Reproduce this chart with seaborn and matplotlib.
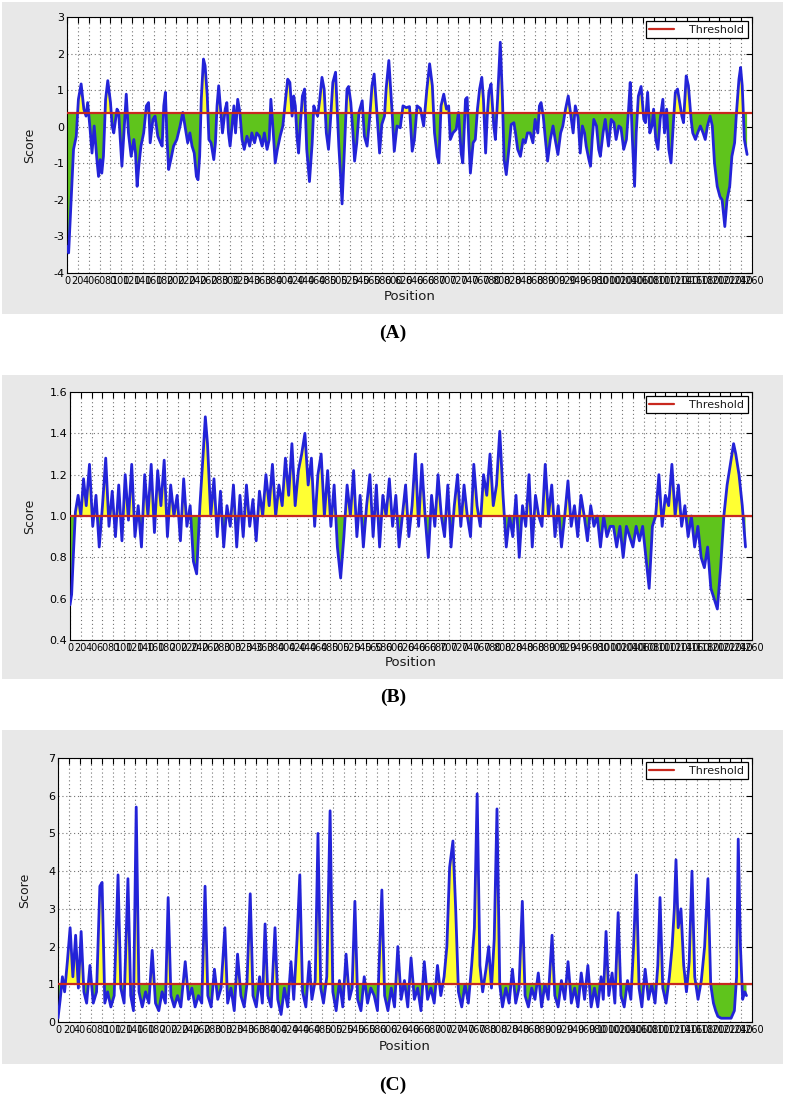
import numpy as np
import pandas as pd
import seaborn as sns
import matplotlib.pyplot as plt
from matplotlib.patches import Rectangle

# ---------------- data ----------------
# panel A
pos_a = [0, 3, 7, 12, 17, 21, 26, 31, 35, 38, 42, 46, 50, 55, 58, 61, 64, 67, 71, 75,
         80, 83, 86, 92, 95, 98, 101, 104, 109, 113, 118, 123, 126, 129, 132, 136, 141, 146, 150, 153,
         158, 162, 167, 172, 175, 178, 181, 184, 187, 191, 196, 202, 208, 213, 218, 222, 226, 230, 234, 238,
         241, 244, 247, 251, 254, 258, 261, 265, 270, 273, 276, 279, 283, 286, 291, 294, 297, 300, 307, 310,
         314, 318, 322, 326, 331, 336, 340, 345, 349, 354, 359, 363, 368, 372, 375, 379, 383, 387, 392, 397,
         402, 406, 410, 414, 417, 420, 423, 426, 429, 433, 437, 441, 446, 451, 454, 458, 461, 465, 469, 473,
         477, 481, 484, 489, 494, 497, 500, 503, 506, 509, 512, 515, 518, 522, 526, 529, 533, 537, 543, 547,
         552, 557, 561, 565, 570, 575, 579, 584, 587, 592, 598, 602, 607, 613, 618, 624, 630, 635, 639, 644,
         650, 656, 662, 667, 672, 676, 681, 684, 688, 693, 698, 702, 705, 710, 716, 720, 725, 728, 733, 736,
         739, 742, 747, 751, 755, 759, 763, 766, 770, 773, 776, 780, 785, 788, 792, 797, 801, 804, 808, 812,
         817, 822, 825, 829, 834, 839, 843, 847, 852, 857, 861, 866, 869, 872, 876, 880, 884, 889, 894, 898,
         903, 908, 912, 917, 922, 926, 931, 935, 940, 944, 948, 952, 955, 960, 963, 966, 969, 974, 978, 981,
         986, 990, 996, 1001, 1006, 1010, 1015, 1019, 1024, 1029, 1033, 1036, 1040, 1044, 1047, 1051, 1056, 1061, 1064, 1068,
         1072, 1076, 1079, 1083, 1087, 1091, 1096, 1099, 1103, 1107, 1111, 1115, 1119, 1123, 1127, 1131, 1134, 1139, 1143, 1148,
         1151, 1156, 1160, 1165, 1170, 1174, 1178, 1183, 1187, 1191, 1196, 1201, 1205, 1210, 1214, 1219, 1223, 1228, 1231, 1236,
         1239, 1242, 1246, 1251]
score_a = [-3.28, -3.45, -2.18, -0.62, -0.26, 0.75, 1.17, 0.48, 0.29, 0.66, 0.02, -0.72, 0.02, -0.90, -1.36, -0.90, -1.27, -0.81, 0.75, 1.26,
           0.66, 0.02, -0.17, 0.48, 0.39, -0.35, -1.08, -0.35, 0.89, -0.17, -0.81, -0.35, -0.72, -1.63, -1.08, -0.53, -0.17, 0.57, 0.66, -0.44,
           0.20, 0.29, -0.26, -0.44, -0.53, 0.57, 0.94, -0.35, -1.17, -0.90, -0.53, -0.35, 0.02, 0.39, -0.07, -0.44, -0.17, -0.53, -0.72, -1.36,
           -1.45, -0.81, 0.75, 1.85, 1.67, 0.84, -0.35, -0.44, -0.90, -0.44, 0.57, 1.12, 0.39, -0.17, 0.48, 0.66, -0.17, -0.53, 0.57, -0.17,
           0.75, 0.39, -0.35, -0.62, -0.26, -0.53, -0.17, -0.44, -0.17, -0.26, -0.53, -0.17, -0.62, -0.35, 0.75, -0.07, -0.99, -0.62, -0.26, 0.02,
           0.75, 1.30, 1.21, 0.29, 0.84, 0.57, -0.26, -0.72, 0.02, 0.84, 1.03, -0.62, -1.50, -0.44, 0.57, 0.39, 0.29, 0.75, 1.35, 1.03,
           -0.17, -0.62, 0.02, 1.21, 1.49, 0.48, -0.53, -1.27, -2.11, -1.08, 0.02, 1.03, 1.10, 0.66, -0.17, -0.94, -0.44, 0.39, 0.71, -0.26,
           -0.53, 0.29, 1.12, 1.44, 0.39, -0.72, 0.06, 0.29, 1.03, 1.81, 0.39, -0.67, 0.02, -0.03, 0.57, 0.52, 0.55, -0.67, -0.35, 0.57,
           0.50, 0.02, 1.03, 1.72, 1.12, -0.17, -0.81, -0.99, 0.57, 0.89, 0.48, 0.57, -0.35, -0.17, -0.07, 0.39, -0.72, -0.99, 0.75, 0.80,
           -0.35, -1.27, -0.44, -0.35, 0.48, 1.03, 1.35, 0.75, -0.72, 0.29, 0.94, 1.17, 0.02, -0.35, 0.75, 2.31, 0.75, -0.90, -1.31, -0.72,
           0.06, 0.11, -0.17, -0.62, -0.81, -0.35, -0.44, -0.17, -0.17, -0.44, 0.20, -0.17, 0.57, 0.66, 0.29, -0.35, -0.94, -0.35, 0.02, -0.35,
           -0.76, -0.17, 0.02, 0.48, 0.84, 0.39, -0.17, 0.57, 0.25, -0.72, 0.02, -0.17, -0.53, -0.90, -1.08, -0.35, 0.20, 0.02, -0.62, -0.81,
           -0.17, 0.20, -0.53, 0.20, 0.11, -0.35, 0.02, -0.03, -0.62, -0.35, 0.48, 1.21, -0.35, -1.63, -0.17, 0.84, 1.10, 0.20, 0.11, 0.94,
           -0.17, 0.02, 0.48, -0.35, -0.62, 0.20, 0.75, -0.17, 0.48, -0.62, -0.99, 0.02, 0.94, 1.03, 0.66, 0.29, 0.11, 1.39, 1.12, 0.20,
           -0.17, -0.35, -0.17, 0.02, -0.17, -0.35, 0.02, 0.29, 0.02, -0.99, -1.63, -1.91, -2.00, -2.73, -2.00, -1.63, -0.81, -0.44, 0.29, 1.30,
           1.62, 1.12, -0.35, -0.76]
thr_a = 0.37

# panel B
pos_b = [0, 3, 6, 10, 15, 20, 25, 30, 36, 42, 48, 54, 60, 66, 72, 78, 84, 90, 96, 102,
         108, 114, 120, 126, 132, 138, 144, 150, 156, 162, 168, 174, 180, 186, 192, 198, 204, 210, 216, 222,
         228, 234, 240, 246, 250, 254, 260, 266, 272, 278, 284, 290, 296, 302, 308, 314, 320, 326, 332, 338,
         344, 350, 356, 362, 368, 374, 380, 386, 392, 398, 404, 410, 416, 422, 428, 434, 440, 446, 452, 458,
         464, 470, 476, 482, 488, 494, 500, 506, 512, 518, 524, 530, 536, 542, 548, 554, 560, 566, 572, 578,
         584, 590, 596, 602, 608, 614, 620, 626, 632, 638, 644, 650, 656, 662, 668, 674, 680, 686, 692, 698,
         704, 710, 716, 722, 728, 734, 740, 746, 752, 758, 764, 770, 776, 782, 788, 794, 800, 806, 812, 818,
         824, 830, 836, 842, 848, 854, 860, 866, 872, 878, 884, 890, 896, 902, 908, 914, 920, 926, 932, 938,
         944, 950, 956, 962, 968, 974, 980, 986, 992, 998, 1004, 1010, 1016, 1022, 1028, 1034, 1040, 1046, 1052, 1058,
         1064, 1070, 1076, 1082, 1088, 1094, 1100, 1106, 1112, 1118, 1124, 1130, 1136, 1142, 1148, 1154, 1160, 1166, 1172, 1178,
         1184, 1190, 1196, 1202, 1208, 1214, 1220, 1226, 1230, 1236, 1242, 1248]
score_b = [0.57, 0.62, 0.80, 1.02, 1.10, 1.00, 1.18, 1.05, 1.25, 0.95, 1.10, 0.85, 1.05, 1.28, 0.95, 1.12, 0.90, 1.15, 0.88, 1.20,
           0.98, 1.25, 0.90, 1.05, 0.85, 1.20, 1.00, 1.25, 0.92, 1.22, 1.05, 1.27, 0.90, 1.15, 1.00, 1.10, 0.88, 1.18, 0.95, 1.05,
           0.78, 0.72, 1.05, 1.30, 1.48, 1.35, 1.00, 1.18, 0.90, 1.12, 0.85, 1.05, 0.95, 1.15, 0.85, 1.10, 0.90, 1.15, 0.95, 1.08,
           0.88, 1.12, 1.00, 1.20, 1.05, 1.25, 1.00, 1.15, 1.05, 1.28, 1.10, 1.35, 1.05, 1.22, 1.30, 1.40, 1.15, 1.28, 0.95, 1.20,
           1.30, 1.00, 1.22, 0.95, 1.15, 0.85, 0.70, 0.90, 1.15, 1.00, 1.22, 0.90, 1.10, 0.85, 1.05, 1.20, 0.90, 1.15, 0.85, 1.10,
           1.00, 1.18, 0.95, 1.10, 0.85, 1.00, 1.15, 0.90, 1.05, 1.30, 0.95, 1.25, 1.00, 0.80, 1.10, 0.95, 1.20, 1.00, 0.90, 1.15,
           0.85, 1.05, 1.20, 0.95, 1.15, 1.00, 0.90, 1.25, 1.05, 0.95, 1.20, 1.10, 1.30, 1.05, 1.15, 1.41, 1.10, 0.85, 1.00, 0.90,
           1.10, 0.80, 1.05, 0.95, 1.20, 0.85, 1.10, 1.00, 0.95, 1.25, 1.00, 1.15, 0.90, 1.05, 0.85, 1.00, 1.17, 0.95, 1.05, 0.90,
           1.10, 1.00, 0.88, 1.05, 0.95, 1.00, 0.85, 1.00, 0.90, 0.95, 0.95, 0.85, 0.95, 0.80, 0.95, 0.90, 0.85, 0.95, 0.88, 0.95,
           0.80, 0.65, 0.95, 1.00, 1.20, 0.95, 1.10, 1.05, 1.25, 1.00, 1.15, 0.95, 1.05, 0.90, 1.00, 0.85, 0.95, 0.80, 0.75, 0.85,
           0.65, 0.60, 0.55, 0.75, 1.00, 1.15, 1.25, 1.35, 1.30, 1.20, 1.05, 0.85]
thr_b = 1.0

# panel C
pos_c = [0, 4, 8, 12, 17, 22, 27, 32, 37, 42, 47, 52, 58, 64, 70, 76, 80, 85, 90, 96,
         102, 109, 114, 120, 127, 132, 137, 142, 147, 153, 159, 165, 171, 177, 183, 189, 195, 200, 205, 211,
         217, 223, 231, 237, 243, 249, 255, 261, 267, 272, 278, 284, 290, 296, 303, 308, 314, 320, 326, 332,
         338, 343, 349, 354, 360, 366, 371, 376, 381, 387, 394, 399, 405, 411, 417, 423, 428, 434, 439, 444,
         450, 456, 461, 467, 472, 477, 482, 488, 494, 499, 505, 511, 517, 523, 529, 534, 539, 544, 550, 556,
         562, 568, 574, 580, 588, 593, 599, 605, 611, 617, 623, 629, 635, 641, 647, 653, 659, 665, 671, 677,
         683, 689, 695, 701, 706, 711, 717, 722, 727, 733, 739, 745, 751, 756, 761, 766, 771, 777, 782, 787,
         792, 797, 802, 807, 813, 819, 825, 831, 837, 843, 848, 854, 860, 866, 872, 878, 884, 890, 897, 902,
         908, 914, 920, 926, 932, 938, 944, 950, 956, 962, 968, 974, 980, 986, 990, 995, 1000, 1006, 1011, 1017,
         1022, 1028, 1034, 1040, 1045, 1050, 1055, 1060, 1066, 1072, 1078, 1084, 1089, 1093, 1098, 1104, 1110, 1115, 1119, 1122,
         1126, 1131, 1136, 1141, 1146, 1151, 1156, 1162, 1168, 1174, 1180, 1185, 1190, 1194, 1198, 1204, 1210, 1216, 1222, 1228,
         1232, 1235, 1239, 1243, 1247, 1250]
score_c = [0.10, 0.60, 1.20, 0.80, 1.60, 2.50, 1.20, 2.30, 0.90, 2.40, 0.80, 0.50, 1.50, 0.50, 0.80, 3.60, 3.70, 0.50, 0.80, 0.40,
           0.70, 3.90, 0.90, 0.50, 3.80, 0.70, 0.30, 5.70, 0.80, 0.40, 0.80, 0.50, 1.90, 0.50, 0.30, 0.80, 0.50, 3.30, 0.70, 0.40,
           0.70, 0.40, 1.60, 0.60, 0.90, 0.40, 0.70, 0.50, 3.60, 0.70, 0.40, 1.40, 0.60, 0.90, 2.50, 0.50, 0.90, 0.30, 1.80, 0.70,
           0.40, 1.00, 3.40, 0.70, 0.40, 1.20, 0.50, 2.60, 0.70, 0.40, 2.50, 0.60, 0.20, 0.90, 0.40, 1.60, 0.60, 2.20, 3.90, 0.80,
           0.40, 1.60, 0.60, 1.10, 5.00, 0.90, 0.50, 1.20, 5.60, 0.80, 0.30, 1.10, 0.40, 1.80, 0.60, 0.90, 3.20, 0.60, 0.30, 1.20,
           0.50, 0.90, 0.70, 0.30, 3.50, 0.70, 0.30, 0.90, 0.40, 2.00, 0.60, 1.10, 0.40, 1.70, 0.60, 0.90, 0.30, 1.60, 0.60, 0.90,
           0.50, 1.50, 0.70, 1.20, 2.00, 4.10, 4.80, 3.00, 0.80, 0.40, 1.00, 0.50, 1.50, 2.50, 6.05, 1.50, 0.80, 1.40, 2.00, 0.90,
           2.20, 5.65, 1.00, 0.40, 0.90, 0.50, 1.40, 0.50, 0.90, 3.20, 0.70, 0.40, 0.90, 0.60, 1.30, 0.40, 1.00, 0.60, 2.30, 0.70,
           0.40, 1.10, 0.60, 1.60, 0.50, 0.90, 0.40, 1.30, 0.60, 1.50, 0.40, 0.90, 0.40, 1.20, 0.60, 2.40, 0.70, 1.30, 0.50, 2.90,
           0.70, 0.40, 1.10, 0.60, 2.00, 3.90, 0.90, 0.40, 1.40, 0.60, 1.00, 0.50, 1.50, 3.30, 0.90, 0.50, 1.20, 2.00, 3.00, 4.30,
           2.50, 3.00, 1.50, 0.80, 1.60, 4.00, 1.20, 0.60, 1.10, 2.00, 3.80, 1.00, 0.50, 0.30, 0.15, 0.10, 0.10, 0.10, 0.10, 0.30,
           1.20, 4.85, 2.00, 0.60, 0.80, 0.70]
thr_c = 1.0

panels = [
    ("(A)", pos_a, score_a, thr_a, (-4, 3), np.arange(-4, 3.1, 1), "%d"),
    ("(B)", pos_b, score_b, thr_b, (0.4, 1.6), np.arange(0.4, 1.61, 0.2), "%.1f"),
    ("(C)", pos_c, score_c, thr_c, (0, 7), np.arange(0, 7.1, 1), "%d"),
]

# pixel layout: axes (left, top, right, bottom), grey box (top, bottom), label y, ylabel x, xlabel y
layout = [
    ((67, 17, 752, 273), (2, 314), 333, 30, 297),
    ((70, 392, 752, 640), (375, 679), 697, 30, 662),
    ((58, 758, 752, 1022), (730, 1064), 1085, 25, 1046),
]

W, H = 786, 1109
sns.set_style("whitegrid", {
    "grid.linestyle": ":",
    "grid.color": "0.55",
    "axes.edgecolor": "black",
    "axes.linewidth": 1.2,
    "xtick.direction": "in",
    "ytick.direction": "in",
    "text.color": "0.1",
    "xtick.color": "black",
    "ytick.color": "black",
})
plt.rcParams["font.family"] = ["DejaVu Sans"]

fig = plt.figure(figsize=(W / 100, H / 100), dpi=100)

for (label, pos, score, thr, ylim, yticks, fmt), (ax_px, grey, lab_y, ylab_x, xlab_y) in zip(panels, layout):
    fig.patches.append(Rectangle((2 / W, 1 - grey[1] / H), 781 / W, (grey[1] - grey[0]) / H,
                                 transform=fig.transFigure, facecolor="#e8e8e8", edgecolor="none", zorder=-10))
    l, t, r, b = ax_px
    ax = fig.add_axes([l / W, 1 - b / H, (r - l) / W, (b - t) / H])
    ax.set_zorder(1)
    df = pd.DataFrame({"Position": pos, "Score": score})
    y = df["Score"].to_numpy()
    x = df["Position"].to_numpy()
    ax.fill_between(x, y, thr, where=y >= thr, interpolate=True, color="#ffff33", lw=0, zorder=2)
    ax.fill_between(x, y, thr, where=y <= thr, interpolate=True, color="#5fc41c", lw=0, zorder=2)
    sns.lineplot(data=df, x="Position", y="Score", ax=ax, color="#2323d8", lw=2.0,
                 estimator=None, sort=False, zorder=3)
    ax.axhline(thr, color="#c8281e", lw=1.6, label="Threshold", zorder=4)
    ax.set_xlim(0, 1260)
    ax.set_ylim(*ylim)
    ax.set_xticks(np.arange(0, 1261, 20))
    ax.set_xticklabels([str(v) for v in np.arange(0, 1261, 20)], fontsize=7)
    ax.set_yticks(yticks)
    ax.set_yticklabels([fmt % v for v in yticks], fontsize=8)
    ax.tick_params(top=True, right=True, length=4, width=0.8, pad=2)
    ax.grid(True, linestyle=(0, (1, 2.5)), color="0.45", lw=0.8)
    ax.set_xlabel("")
    ax.set_ylabel("")
    leg = ax.legend(loc="upper right", fontsize=8, fancybox=False, framealpha=1,
                    edgecolor="black", handlelength=2.2, handletextpad=1.4, borderpad=0.3,
                    borderaxespad=0.4)
    leg.get_frame().set_linewidth(0.9)
    fig.text(ylab_x / W, 1 - (t + b) / 2 / H, "Score", rotation=90, ha="center", va="center", fontsize=9)
    fig.text((l + r) / 2 / W, 1 - xlab_y / H, "Position", ha="center", va="center", fontsize=9.5)
    fig.text(0.5, 1 - lab_y / H, label, ha="center", va="center", fontsize=14, color="black",
             fontweight="bold", family=["Liberation Serif", "DejaVu Serif"])

fig.savefig("out.png", dpi=100, facecolor="white")
